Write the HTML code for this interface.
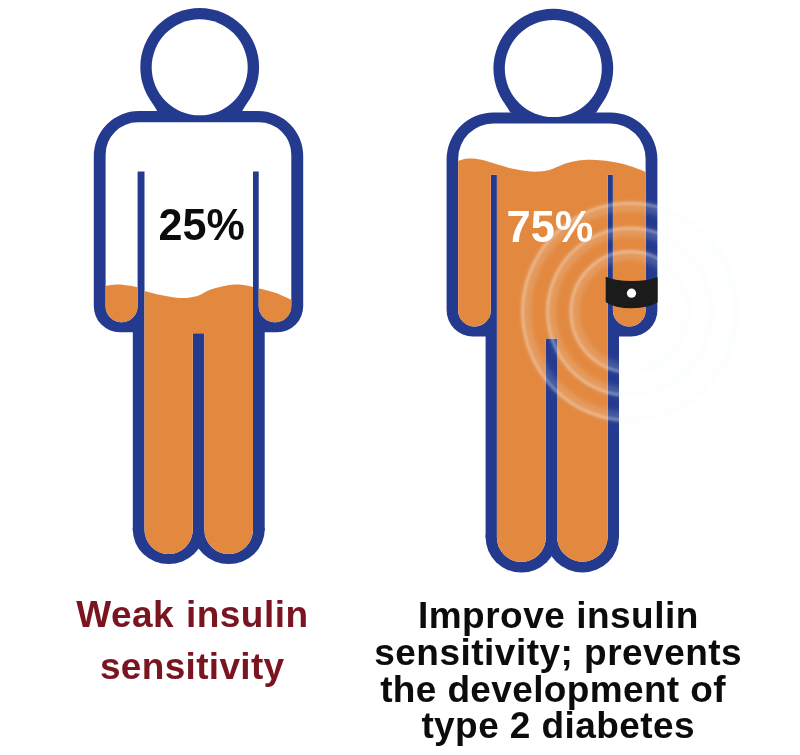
<!DOCTYPE html>
<html lang="en">
<head>
<meta charset="utf-8">
<title>Insulin sensitivity</title>
<style>
html,body{margin:0;padding:0;background:#fff;}
body{width:800px;height:755px;overflow:hidden;position:relative;font-family:"Liberation Sans",sans-serif;}
svg{position:absolute;left:0;top:0;display:block;}
.t{font-family:"Liberation Sans",sans-serif;font-weight:bold;}
</style>
</head>
<body>
<svg width="800" height="755" viewBox="0 0 800 755">
<defs>
<filter id="blur" x="-20%" y="-20%" width="140%" height="140%"><feGaussianBlur stdDeviation="2.6"/></filter>
<filter id="blur2" x="-20%" y="-20%" width="140%" height="140%"><feGaussianBlur stdDeviation="0.9"/></filter>
</defs>
<rect width="800" height="755" fill="#fff"/>
<g id="left">
<circle cx="199.70" cy="67.30" r="59.40" fill="#243A8E"/>
<path d="M93.80,156.00 A45.00,45.00 0 0 1 138.80,111.00 H258.20 A45.00,45.00 0 0 1 303.20,156.00 V306.00 A25.90,25.90 0 0 1 277.30,332.20 H264.70 V530.70 H132.80 V332.20 H119.70 A25.90,25.90 0 0 1 93.80,306.30 Z" fill="#243A8E"/>
<path d="M132.80,527.70 V529.85 A35.85,34.15 0 0 0 204.50,529.85 V527.70 Z" fill="#243A8E"/>
<path d="M192.70,527.70 V529.70 A36.00,34.30 0 0 0 264.70,529.70 V527.70 Z" fill="#243A8E"/>
<polygon points="157.47,111.40 160.97,111.40 151.29,101.00" fill="#243A8E"/>
<polygon points="241.93,111.40 238.43,111.40 248.11,101.00" fill="#243A8E"/>
<circle cx="199.70" cy="67.30" r="48.00" fill="#fff"/>
<clipPath id="Lclip"><path d="M105.60,171.50 V154.70 A32.50,32.50 0 0 1 138.10,122.20 H258.80 A32.50,32.50 0 0 1 291.30,154.70 V171.50 Z"/><path d="M105.60,170.50 V306.30 A16.00,16.00 0 0 0 137.60,306.30 V170.50 Z"/><path d="M258.70,170.50 V306.00 A16.30,16.30 0 0 0 291.30,306.00 V170.50 Z"/><path d="M144.50,170.50 V529.85 A24.15,24.15 0 0 0 192.80,529.85 V333.30 H204.40 V529.70 A24.30,24.30 0 0 0 253.00,529.70 V170.50 Z"/></clipPath>
<rect x="93.8" y="111.0" width="209.4" height="458.0" fill="#fff" clip-path="url(#Lclip)"/>
<path d="M100.00,286.40 C100.95,286.30 102.90,286.13 105.70,285.80 C108.50,285.47 113.08,284.47 116.80,284.40 C120.52,284.33 124.57,284.92 128.00,285.40 C131.43,285.88 134.63,286.37 137.40,287.30 C140.17,288.23 140.08,289.58 144.60,291.00 C149.12,292.42 158.53,294.62 164.50,295.80 C170.47,296.98 175.10,298.03 180.40,298.10 C185.70,298.17 191.22,297.65 196.30,296.20 C201.38,294.75 205.82,291.20 210.90,289.40 C215.98,287.60 222.03,286.20 226.80,285.40 C231.57,284.60 235.13,284.33 239.50,284.60 C243.87,284.87 249.82,286.38 253.00,287.00 C256.18,287.62 255.02,287.37 258.60,288.30 C262.18,289.23 270.27,291.22 274.50,292.60 C278.73,293.98 281.22,295.42 284.00,296.60 C286.78,297.78 289.03,298.80 291.20,299.70 C293.37,300.60 296.03,301.62 297.00,302.00 V569.0 H100.00 Z" fill="#E2883F" clip-path="url(#Lclip)"/>
<text class="t" opacity="0.999" transform="translate(201.7,240.4) scale(1,1.015)" font-size="43.1" text-anchor="middle" fill="#0c0c0c">25%</text>
</g>
<g id="right">
<circle cx="553.30" cy="68.60" r="59.90" fill="#243A8E"/>
<path d="M446.60,159.40 A47.00,47.00 0 0 1 493.60,112.40 H610.40 A47.00,47.00 0 0 1 657.40,159.40 V310.15 A26.40,26.40 0 0 1 631.00,336.60 H619.00 V537.45 H485.60 V336.60 H473.00 A26.40,26.40 0 0 1 446.60,310.20 Z" fill="#243A8E"/>
<path d="M485.60,534.45 V537.35 A35.85,35.25 0 0 0 557.30,537.35 V534.45 Z" fill="#243A8E"/>
<path d="M545.70,534.45 V536.45 A36.65,36.15 0 0 0 619.00,536.45 V534.45 Z" fill="#243A8E"/>
<polygon points="510.44,112.80 513.94,112.80 504.35,102.40" fill="#243A8E"/>
<polygon points="596.16,112.80 592.66,112.80 602.25,102.40" fill="#243A8E"/>
<circle cx="553.30" cy="68.60" r="48.50" fill="#fff"/>
<clipPath id="Rclip"><path d="M458.20,174.70 V158.60 A35.00,35.00 0 0 1 493.20,123.60 H610.60 A35.00,35.00 0 0 1 645.60,158.60 V174.70 Z"/><path d="M458.20,173.70 V310.20 A16.30,16.30 0 0 0 490.80,310.20 V173.70 Z"/><path d="M612.90,173.70 V310.15 A16.35,16.35 0 0 0 645.60,310.15 V173.70 Z"/><path d="M496.90,173.70 V537.35 A24.45,24.45 0 0 0 545.90,537.35 V338.60 H557.00 V536.45 A25.35,25.35 0 0 0 607.70,536.45 V173.70 Z"/></clipPath>
<rect x="446.6" y="112.4" width="210.8" height="465.2" fill="#fff" clip-path="url(#Rclip)"/>
<path d="M452.00,162.00 C453.20,161.75 456.47,161.10 459.20,160.50 C461.93,159.90 464.68,158.53 468.40,158.40 C472.12,158.27 477.13,158.83 481.50,159.70 C485.87,160.57 489.78,162.17 494.60,163.60 C499.42,165.03 505.15,167.07 510.40,168.30 C515.65,169.53 521.30,170.47 526.10,171.00 C530.90,171.53 534.82,171.85 539.20,171.50 C543.58,171.15 548.02,170.22 552.40,168.90 C556.78,167.58 561.13,165.00 565.50,163.60 C569.87,162.20 574.23,161.15 578.60,160.50 C582.97,159.85 586.88,159.62 591.70,159.70 C596.52,159.78 602.25,160.27 607.50,161.00 C612.75,161.73 617.95,162.72 623.20,164.10 C628.45,165.48 635.28,167.98 639.00,169.30 C642.72,170.62 643.33,171.13 645.50,172.00 C647.67,172.87 650.92,174.08 652.00,174.50 V577.6 H452.00 Z" fill="#E2883F" clip-path="url(#Rclip)"/>
<text class="t" opacity="0.999" transform="translate(550,242.4) scale(1,1.01)" font-size="43.4" text-anchor="middle" fill="#fff">75%</text>
<g id="ripples">
<ellipse cx="630" cy="311.8" rx="55.5" ry="56.8" fill="none" stroke="#f6f9fc" stroke-opacity="0.17" stroke-width="10" filter="url(#blur)"/>
<ellipse cx="630" cy="311.8" rx="59" ry="60.3" fill="none" stroke="#f6f9fc" stroke-opacity="0.34" stroke-width="2.8" filter="url(#blur2)"/>
<ellipse cx="630" cy="311.8" rx="78.9" ry="80.2" fill="none" stroke="#f6f9fc" stroke-opacity="0.17" stroke-width="10" filter="url(#blur)"/>
<ellipse cx="630" cy="311.8" rx="82.4" ry="83.7" fill="none" stroke="#f6f9fc" stroke-opacity="0.34" stroke-width="2.8" filter="url(#blur2)"/>
<ellipse cx="630" cy="311.8" rx="103.9" ry="105.2" fill="none" stroke="#f6f9fc" stroke-opacity="0.17" stroke-width="10" filter="url(#blur)"/>
<ellipse cx="630" cy="311.8" rx="107.4" ry="108.7" fill="none" stroke="#f6f9fc" stroke-opacity="0.34" stroke-width="2.8" filter="url(#blur2)"/>
</g>
<path d="M606.4,277.6 C618,283 645,283.2 656.9,278 L656.9,302 C645,309.3 618,309.5 606.4,301.6 Z" fill="#1b1b1b" stroke="#1b1b1b" stroke-width="1.4" stroke-linejoin="round"/><circle cx="631.5" cy="293.2" r="4.6" fill="#fff"/>
</g>
<g class="t" text-anchor="middle" opacity="0.999">
<text x="192.4" y="626.8" font-size="37" letter-spacing="0.45" word-spacing="1.2" fill="#7a1420">Weak insulin</text>
<text x="192.2" y="678.5" font-size="37" letter-spacing="0.32" fill="#7a1420">sensitivity</text>
<text x="558.4" y="628.1" font-size="37" letter-spacing="0.5" fill="#0c0c0c">Improve insulin</text>
<text x="558.2" y="664.8" font-size="37" letter-spacing="0.48" fill="#0c0c0c">sensitivity; prevents</text>
<text x="553" y="701.8" font-size="37" letter-spacing="0.36" fill="#0c0c0c">the development of</text>
<text x="558.2" y="737.6" font-size="37" letter-spacing="0.42" fill="#0c0c0c">type 2 diabetes</text>
</g>
</svg>
</body>
</html>
